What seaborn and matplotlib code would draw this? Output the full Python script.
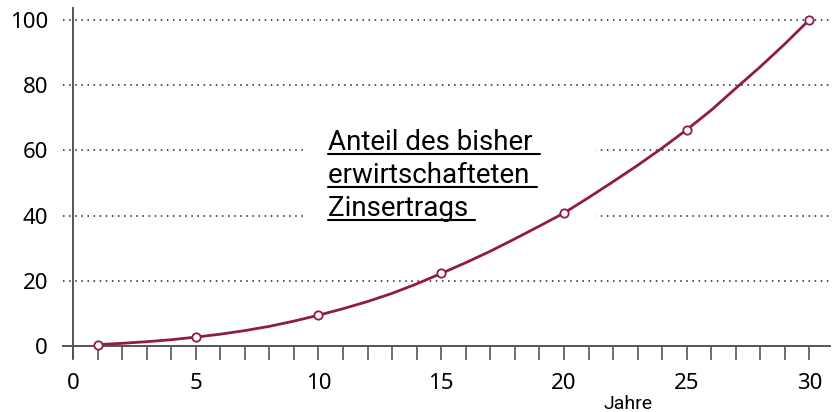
import numpy as np
import pandas as pd
import matplotlib
matplotlib.use("Agg")
import matplotlib.pyplot as plt
import seaborn as sns
from matplotlib.patches import Rectangle
from matplotlib.lines import Line2D

# Jahre mit Markierung und Anteil (%)
marker_years = [1, 5, 10, 15, 20, 25, 30]
marker_share = [0.5, 2.8, 9.5, 22.3, 40.8, 66.3, 100]

curve_years = list(range(1, 31))
curve_share = [0.5, 0.9, 1.4, 2.0, 2.8, 3.7, 4.8, 6.1, 7.7, 9.5,
               11.5, 13.7, 16.2, 19.1, 22.3, 25.6, 29.1, 32.9, 36.8, 40.8,
               45.5, 50.4, 55.4, 60.7, 66.3, 72.3, 79.0, 85.6, 92.6, 100]

y_ticks = [0, 20, 40, 60, 80, 100]
x_ticks = [0, 5, 10, 15, 20, 25, 30]
label_lines = ["Anteil des bisher ", "erwirtschafteten ", "Zinsertrags "]

curve = pd.DataFrame({"Jahr": curve_years, "Anteil": curve_share})
marks = pd.DataFrame({"Jahr": marker_years, "Anteil": marker_share})

sns.set_style("white")
plt.rcParams["font.family"] = ["Noto Sans", "DejaVu Sans"]
plt.rcParams["text.color"] = "black"
plt.rcParams["xtick.labelcolor"] = "black"
plt.rcParams["ytick.labelcolor"] = "black"

red = "#8e1b4b"
fig, ax = plt.subplots(figsize=(8.32, 4.12), dpi=100)
fig.subplots_adjust(left=0.0877, right=0.998, top=0.98, bottom=0.131)

ax.set_xlim(0, 30.85)
ax.set_ylim(-3.6, 103.5)

# gepunktete Hilfslinien
ax.hlines(y_ticks[1:], -0.4, 30.85, colors="#222222", linestyles=(0, (1, 3)),
          linewidth=1.1, clip_on=False, zorder=1)

# weisser Kasten hinter der Beschriftung
ax.add_patch(Rectangle((9.5, 30), 11.8, 42, facecolor="white",
                       edgecolor="none", zorder=2))

sns.lineplot(data=curve, x="Jahr", y="Anteil", color=red, linewidth=2.0,
             ax=ax, zorder=4)
sns.scatterplot(data=marks, x="Jahr", y="Anteil", color="white",
                edgecolor=red, linewidth=1.3, s=36, ax=ax, zorder=5)

ax.spines["top"].set_visible(False)
ax.spines["right"].set_visible(False)
ax.spines["bottom"].set_position(("data", 0))
for s in ["left", "bottom"]:
    ax.spines[s].set_color("#555555")
    ax.spines[s].set_linewidth(1.4)
ax.spines["bottom"].set_bounds(-0.4, 30.85)

ax.set_xticks(x_ticks)
ax.set_xticks(range(0, 31), minor=True)
ax.set_yticks(y_ticks)
ax.tick_params(axis="x", which="both", direction="out", length=10, width=1.2,
               color="#555555", labelsize=16, pad=9, bottom=True,
               labelcolor="black")
ax.tick_params(axis="y", length=0, labelsize=16, pad=18, left=True,
               labelcolor="black")
ax.set_xlabel("")
ax.set_ylabel("")

ax.text(22.6, -17.8, "Jahre", fontsize=14, family="Roboto", color="black",
        ha="center", va="center", clip_on=False)

# mehrzeilige unterstrichene Beschriftung
fig.canvas.draw()
renderer = fig.canvas.get_renderer()
baselines = [60.1, 50.0, 39.9]
for txt, yb in zip(label_lines, baselines):
    t = ax.text(10.4, yb, txt, fontsize=20, family="Roboto", color="black",
                ha="left", va="baseline", zorder=6)
    bb = t.get_window_extent(renderer=renderer)
    inv = ax.transData.inverted()
    (x0, _), (x1, _) = inv.transform([(bb.x0, 0), (bb.x1, 0)])
    ax.add_line(Line2D([x0, x1], [yb - 1.3, yb - 1.3], color="black",
                       linewidth=1.5, zorder=6))

fig.savefig("out.png", dpi=100)
